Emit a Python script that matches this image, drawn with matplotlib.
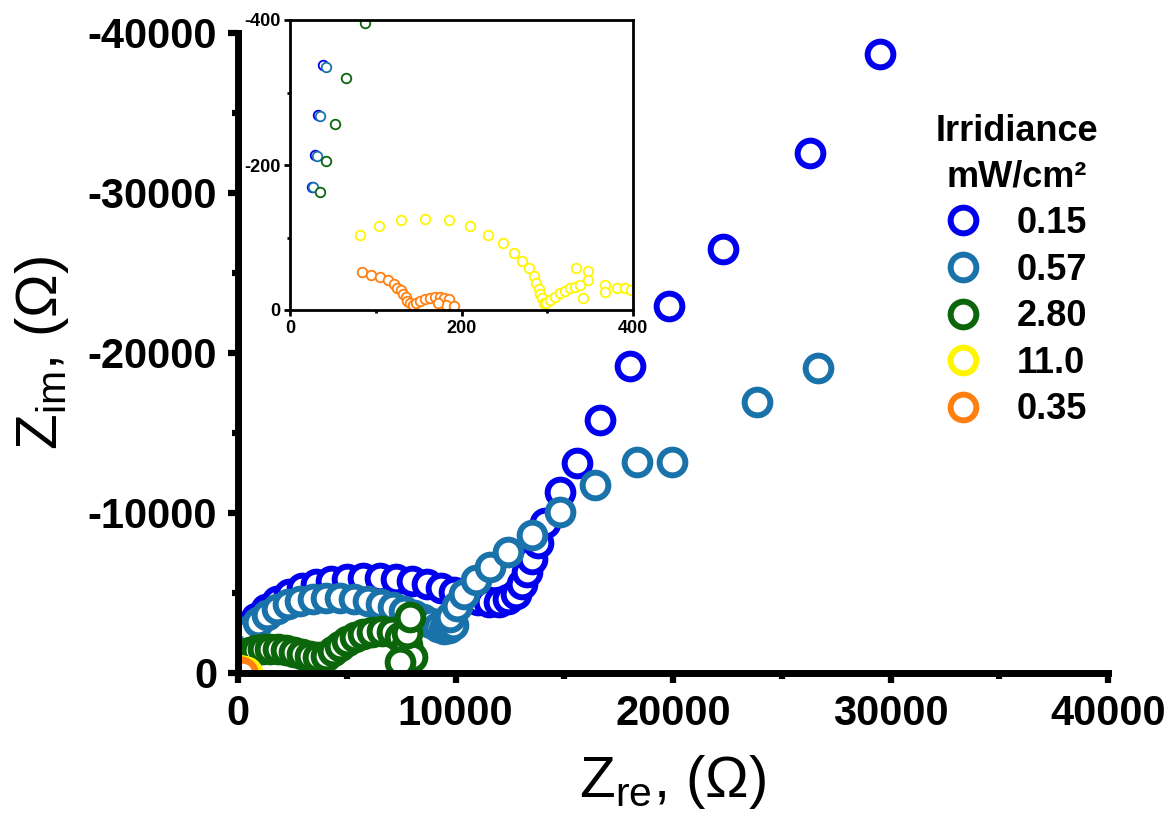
import numpy as np
import matplotlib
matplotlib.use("Agg")
import matplotlib.pyplot as plt
from matplotlib.ticker import MultipleLocator

plt.rcParams['font.family'] = ['Liberation Sans', 'DejaVu Sans']
plt.rcParams['mathtext.default'] = 'regular'
plt.rcParams['axes.unicode_minus'] = False

# irradiance (mW/cm2) and colour of each Nyquist series
irr_labels = ['0.15', '0.57', '2.80', '11.0', '0.35']
colors = ['#0000EE', '#1A72AA', '#0B650B', '#FFF500', '#FF8010']

# 0.15 mW/cm2
zre_015 = [26, 29, 33, 39, 460, 828, 1287, 1793, 2345, 2943, 3586, 4276, 5011,
           5747, 6529, 7264, 8000, 8690, 9333, 9931, 10483, 11034, 11540, 12000,
           12414, 12782, 13057, 13287, 13517, 13793, 14115, 14805, 15586, 16644,
           18023, 19816, 22299, 26299, 29517]
zim_015 = [-170, -214, -269, -338, -2813, -3438, -4000, -4500, -4938, -5313,
           -5563, -5750, -5875, -5938, -5938, -5875, -5750, -5563, -5313, -5063,
           -4750, -4563, -4438, -4438, -4625, -4938, -5563, -6313, -7125, -8125,
           -9375, -11313, -13125, -15813, -19188, -22938, -26500, -32500, -38688]

# 0.57 mW/cm2
zre_057 = [27, 31, 35, 42, 322, 552, 920, 1333, 1793, 2299, 2851, 3448, 4046,
           4690, 5333, 5977, 6575, 7126, 7632, 8092, 8506, 8874, 9195, 9471,
           9701, 9885, 9747, 10069, 10391, 10943, 11586, 12414, 13517, 14805,
           16414, 18345, 19954, 23862, 26667, 39264]
zim_057 = [-170, -212, -268, -335, -2063, -2688, -3188, -3625, -4000, -4313,
           -4500, -4625, -4688, -4688, -4625, -4500, -4313, -4125, -3875, -3625,
           -3375, -3125, -2875, -2750, -2813, -3000, -3500, -4188, -4938, -5813,
           -6625, -7563, -8625, -10063, -11750, -13188, -13188, -16938, -19063,
           -15688]

# 2.80 mW/cm2
zre_280 = [35, 42, 52, 65, 88, 184, 322, 552, 828, 1149, 1471, 1839, 2207, 2575,
           2943, 3310, 3678, 4046, 4368, 4690, 5011, 5379, 5747, 6161, 6621,
           7080, 7448, 7770, 8000, 7448, 7770, 7908]
zim_280 = [-163, -206, -256, -320, -396, -688, -1063, -1313, -1438, -1500,
           -1500, -1500, -1438, -1313, -1188, -1063, -1000, -1063, -1375, -1688,
           -2000, -2250, -2438, -2563, -2625, -2563, -2250, -1750, -1000, -688,
           -2500, -3500]

# 11.0 mW/cm2
zre_110 = [82, 104, 129, 157, 185, 210, 231, 248, 261, 271, 279, 284, 287, 290,
           292, 294, 296, 299, 303, 309, 315, 321, 327, 332, 338, 334, 348, 348,
           342, 367, 367, 381, 391, 398]
zim_110 = [-103, -116, -124, -126, -124, -116, -104, -92, -79, -68, -58, -47,
           -37, -29, -22, -16, -10, -9, -14, -18, -23, -26, -30, -32, -35, -58,
           -54, -41, -16, -35, -25, -30, -31, -28]

# 0.35 mW/cm2
zre_035 = [84, 94, 105, 114, 121, 125, 129, 132, 135, 137, 140, 143, 147, 152,
           157, 163, 169, 175, 180, 185, 182, 191, 173]
zim_035 = [-52, -48, -45, -41, -36, -31, -27, -22, -18, -13, -9, -7, -9, -13,
           -15, -16, -18, -18, -16, -15, -7, -5, -9]

zre_all = [zre_015, zre_057, zre_280, zre_110, zre_035]
zim_all = [zim_015, zim_057, zim_280, zim_110, zim_035]

fig = plt.figure(figsize=(11.73, 8.31), dpi=100)
ax = fig.add_axes([238 / 1173, 1 - 673 / 831, 870 / 1173, 640 / 831])

handles = []
for zr, zi, c in zip(zre_all, zim_all, colors):
    h, = ax.plot(zr, zi, 'o', ms=18.5, mew=4.3, mfc='white', mec=c, ls='none')
    handles.append(h)

ax.set_xlim(0, 40000)
ax.set_ylim(0, -40000)
ax.xaxis.set_major_locator(MultipleLocator(10000))
ax.xaxis.set_minor_locator(MultipleLocator(5000))
ax.yaxis.set_major_locator(MultipleLocator(10000))
ax.yaxis.set_minor_locator(MultipleLocator(5000))
for s in ['top', 'right']:
    ax.spines[s].set_visible(False)
for s in ['left', 'bottom']:
    ax.spines[s].set_linewidth(5)
ax.tick_params(which='major', direction='out', length=7, width=4.5, pad=8,
               labelsize=30)
ax.tick_params(which='minor', direction='out', length=4, width=4.5)
for lab in ax.get_xticklabels() + ax.get_yticklabels():
    lab.set_fontweight('bold')

ax.set_xlabel(r'Z$_\mathregular{re}$, (Ω)', fontsize=42, labelpad=14)
ax.set_ylabel(r'Z$_\mathregular{im}$, (Ω)', fontsize=42, labelpad=12)

leg = ax.legend(handles, irr_labels, title='Irridiance\nmW/cm²',
                loc='upper center', bbox_to_anchor=(1017 / 1173, 1 - 74 / 831),
                bbox_transform=fig.transFigure, frameon=True, framealpha=1,
                facecolor='white', edgecolor='none', fancybox=False,
                prop={'weight': 'bold', 'size': 26},
                title_fontproperties={'weight': 'bold', 'size': 26},
                handlelength=0.9, handletextpad=1.05, labelspacing=0.32,
                borderpad=0.6)
leg.get_title().set_multialignment('center')
leg.get_title().set_linespacing(1.4)

# inset: high frequency region
ins = fig.add_axes([290 / 1173, 1 - 310 / 831, 343 / 1173, 290 / 831])
for zr, zi, c in zip(zre_all, zim_all, colors):
    ins.plot(zr, zi, 'o', ms=6.9, mew=1.3, mfc='white', mec=c, ls='none')
ins.set_xlim(0, 400)
ins.set_ylim(0, -400)
ins.xaxis.set_major_locator(MultipleLocator(200))
ins.xaxis.set_minor_locator(MultipleLocator(100))
ins.yaxis.set_major_locator(MultipleLocator(200))
ins.yaxis.set_minor_locator(MultipleLocator(100))
for s in ins.spines.values():
    s.set_linewidth(2)
ins.tick_params(which='major', direction='out', length=4, width=2, pad=3,
                labelsize=13)
ins.tick_params(which='minor', direction='out', length=2.5, width=2)
for lab in ins.get_xticklabels() + ins.get_yticklabels():
    lab.set_fontweight('bold')

fig.savefig('out.png', dpi=100)
